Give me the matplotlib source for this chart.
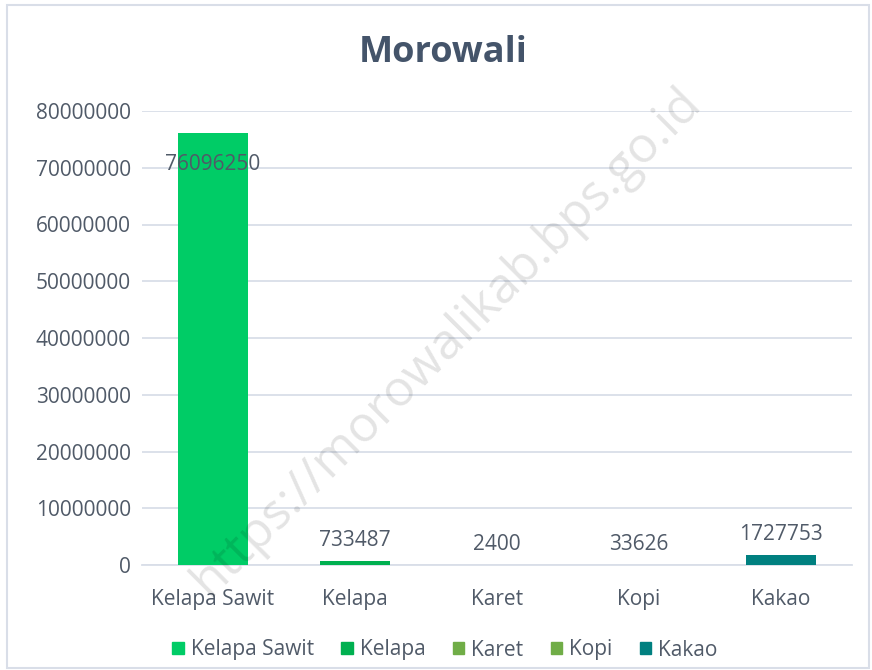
import matplotlib.pyplot as plt
from matplotlib.patches import Rectangle

categories = ["Kelapa Sawit", "Kelapa", "Karet", "Kopi", "Kakao"]
values = [76096250, 733487, 2400, 33626, 1727753]
bar_colors = ["#00CC66", "#00B050", "#70AD47", "#70AD47", "#008080"]
yticks = [0, 10000000, 20000000, 30000000, 40000000, 50000000, 60000000, 70000000, 80000000]

TEXT = "#505A68"
plt.rcParams["font.family"] = ["Open Sans", "DejaVu Sans"]

fig = plt.figure(figsize=(8.72, 6.70), dpi=100)
fig.patch.set_facecolor("white")
fig.patches.append(Rectangle((7 / 872, 1 - 668 / 670), 862 / 872, 663 / 670,
                             transform=fig.transFigure, fill=False,
                             edgecolor="#D9DEE8", linewidth=1.5))

ax = fig.add_axes([142 / 872, 1 - 565 / 670, 710 / 872, 454 / 670])
x = range(len(categories))
bars = ax.bar(x, values, width=0.49, color=bar_colors, zorder=3)
ax.set_xlim(-0.5, 4.5)
ax.set_ylim(0, 80000000)
ax.set_yticks(yticks)
ax.set_yticklabels([str(v) for v in yticks], fontsize=15, color=TEXT)
ax.set_xticks(list(x))
ax.set_xticklabels(categories, fontsize=15, color=TEXT)
ax.tick_params(length=0, pad=8)
ax.tick_params(axis="x", pad=17)
ax.yaxis.grid(True, color="#D9DEE8", linewidth=1.3, zorder=0)
for s in ax.spines.values():
    s.set_visible(False)
ax.spines["bottom"].set_visible(True)
ax.spines["bottom"].set_color("#D9DEE8")
ax.spines["bottom"].set_linewidth(1.3)

for i, v in enumerate(values):
    if i == 0:
        ax.annotate(str(v), (i, v), xytext=(0, -30), textcoords="offset points",
                    ha="center", va="bottom", fontsize=15, color=TEXT, zorder=4)
    else:
        ax.annotate(str(v), (i, v), xytext=(0, 7), textcoords="offset points",
                    ha="center", va="bottom", fontsize=15, color=TEXT, zorder=4)

fig.text(443 / 872, 1 - 53 / 670, "Morowali", ha="center", va="center",
         fontsize=26, fontweight="bold", color="#44546A")

# legend
handles = [Rectangle((0, 0), 1, 1, color=c) for c in bar_colors]
fig.legend(handles, categories, loc="center", bbox_to_anchor=(445 / 872, 1 - 650 / 670),
           ncol=5, frameon=False, fontsize=15, handlelength=0.55, handleheight=0.55,
           handletextpad=0.35, columnspacing=1.3, labelcolor=TEXT)

# watermark
fig.text(447 / 872, 1 - 342 / 670, "https://morowalikab.bps.go.id", ha="center", va="center",
         rotation=45, fontsize=36, color="#000000", alpha=0.11)

fig.savefig("out.png", dpi=100)
